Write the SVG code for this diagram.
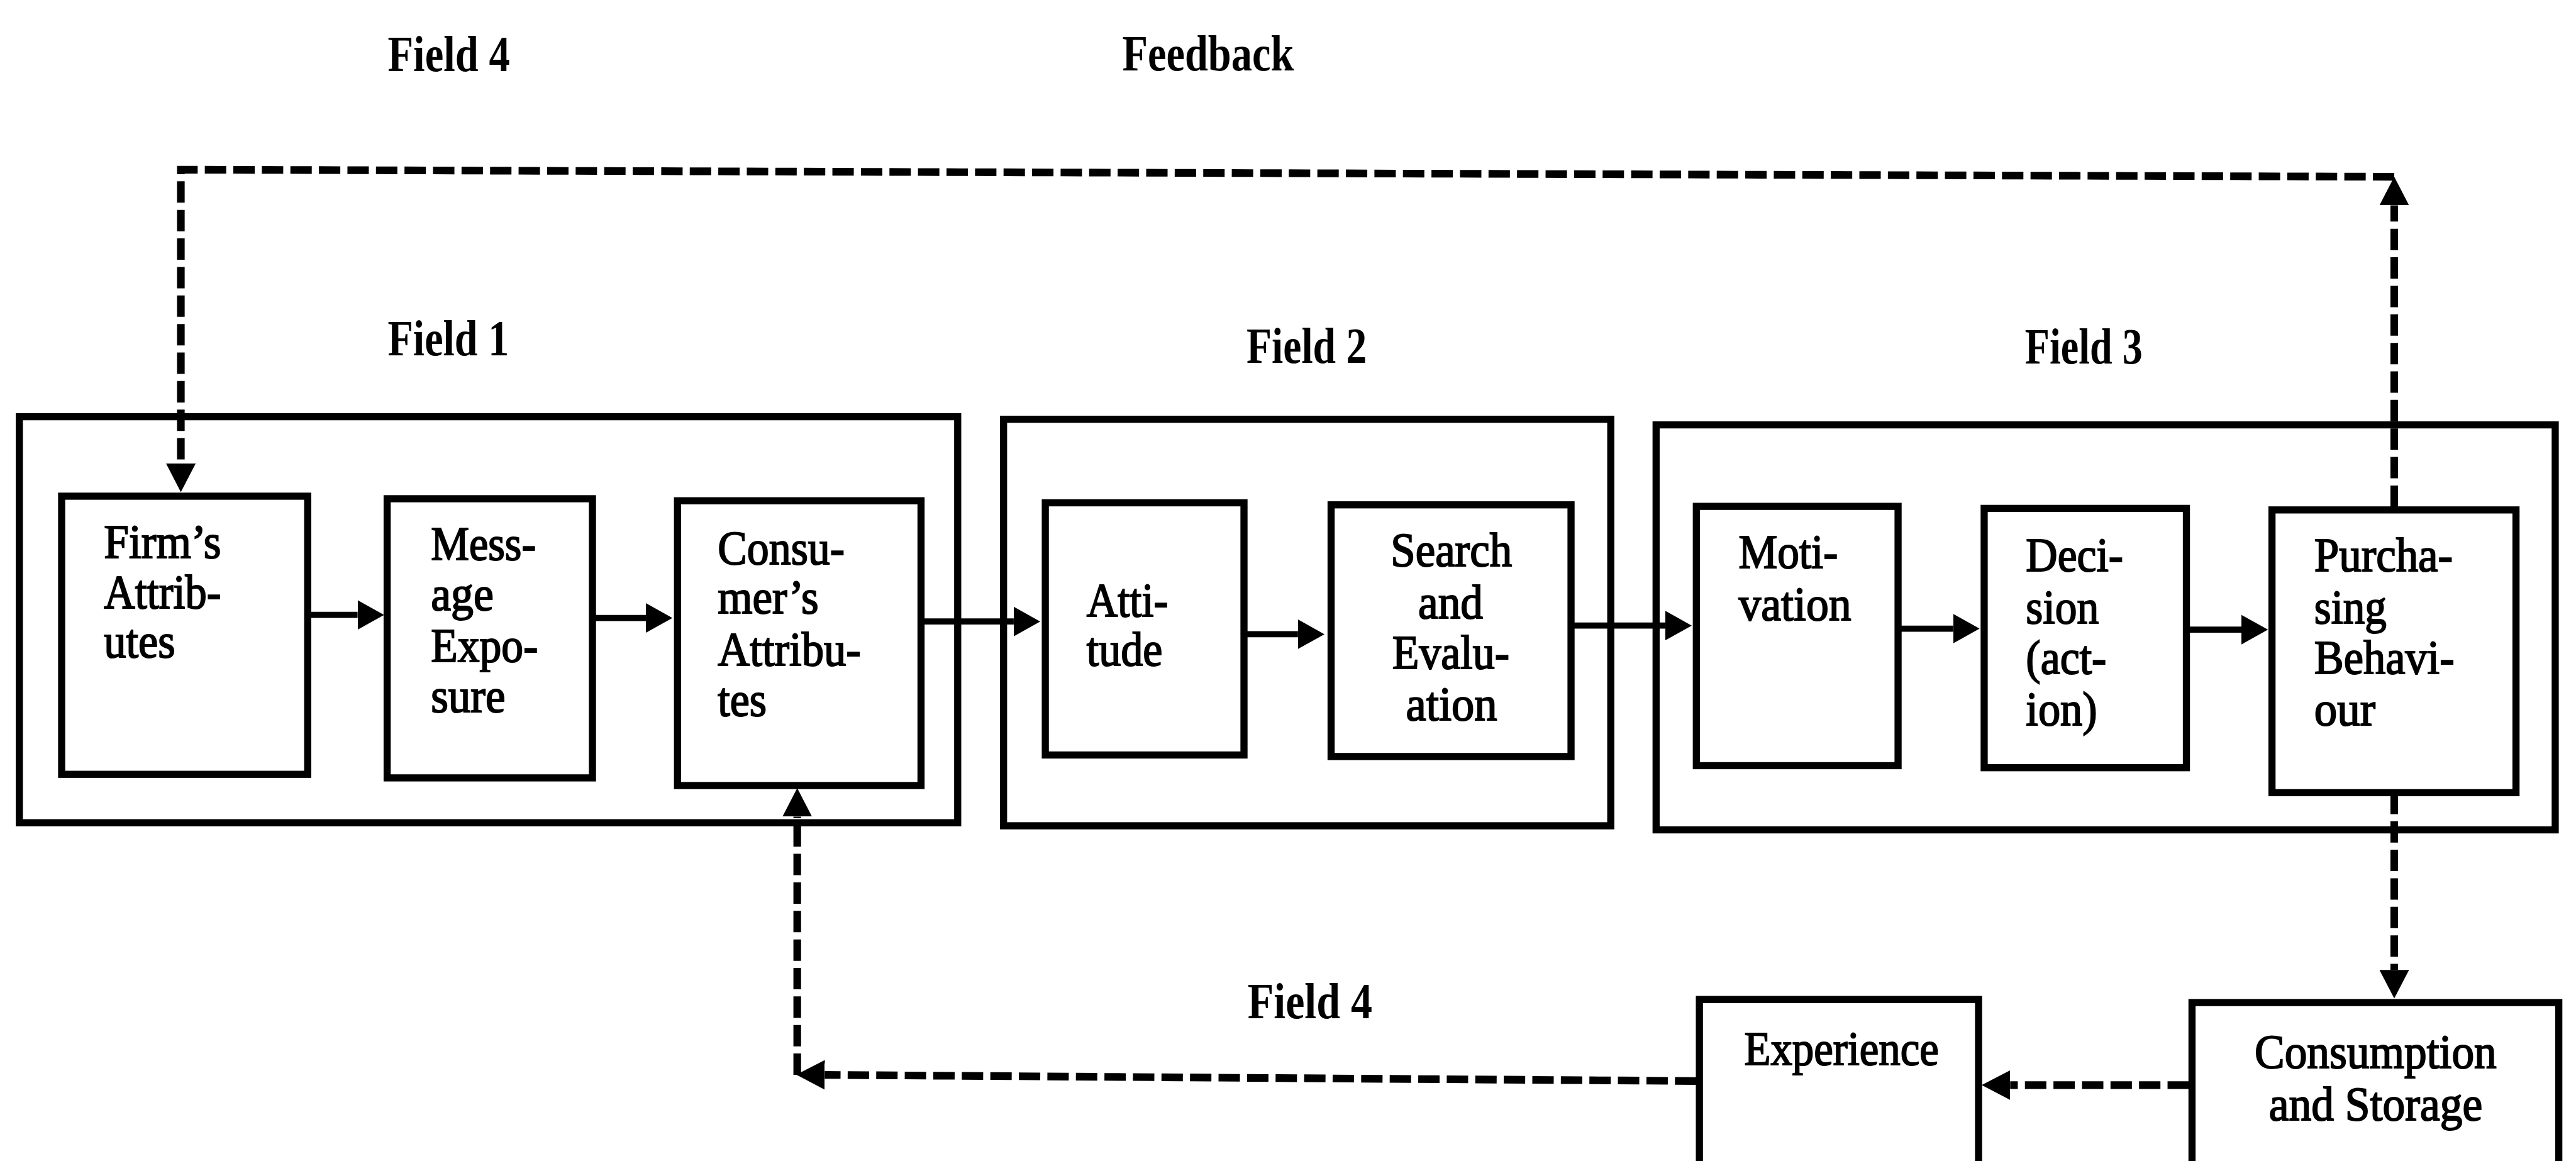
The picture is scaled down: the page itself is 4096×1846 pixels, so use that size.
<svg xmlns="http://www.w3.org/2000/svg" width="4096" height="1846" viewBox="0 0 4096 1846">
  <defs>
    <!-- solid flow arrowhead; line ends at its base -->
    <marker id="head" markerUnits="userSpaceOnUse" viewBox="0 0 52 58" markerWidth="52" markerHeight="58" refX="0" refY="29" orient="auto">
      <path d="M0,0 L52,29 L0,58 z" fill="#000"/>
    </marker>
    <!-- feedback arrowhead for dashed loops -->
    <marker id="headD" markerUnits="userSpaceOnUse" viewBox="0 0 56 58" markerWidth="56" markerHeight="58" refX="0" refY="29" orient="auto">
      <path d="M0,0 L56,29 L0,58 z" fill="#000"/>
    </marker>
  </defs>
  <style>
    .frame{fill:none;stroke:#000;stroke-width:14}
    .box{fill:#fff;stroke:#000;stroke-width:14}
    .lbl{font-family:"Liberation Serif","Times New Roman",serif;font-weight:bold;font-size:100px;fill:#000}
    .txt{font-family:"Liberation Serif","Times New Roman",serif;font-size:95px;fill:#000;stroke:#000;stroke-width:2.5}
    .flow{stroke:#000;stroke-width:12;fill:none;marker-end:url(#head)}
    .fb{stroke:#000;stroke-width:15;fill:none;stroke-dasharray:42 14;marker-end:url(#headD)}
  </style>
  <rect width="4096" height="1846" fill="#fff"/>

  <g transform="scale(0.81)">
    <!-- field headings -->
    <g id="labels">
      <text class="lbl" x="761" y="139" textLength="240" lengthAdjust="spacingAndGlyphs">Field 4</text>
      <text class="lbl" x="2203" y="138" textLength="337" lengthAdjust="spacingAndGlyphs">Feedback</text>
      <text class="lbl" x="761" y="697" textLength="238" lengthAdjust="spacingAndGlyphs">Field 1</text>
      <text class="lbl" x="2447" y="712" textLength="236" lengthAdjust="spacingAndGlyphs">Field 2</text>
      <text class="lbl" x="3975" y="714" textLength="231" lengthAdjust="spacingAndGlyphs">Field 3</text>
      <text class="lbl" x="2449" y="1999" textLength="245" lengthAdjust="spacingAndGlyphs">Field 4</text>
    </g>

    <!-- field frames -->
    <g id="field-1"><rect class="frame" x="38" y="818" width="1842" height="797"/></g>
    <g id="field-2"><rect class="frame" x="1970" y="823" width="1192" height="798"/></g>
    <g id="field-3"><rect class="frame" x="3251" y="834" width="1765" height="795"/></g>

    <!-- stage boxes -->
    <g id="firms-attributes">
      <rect class="box" x="121" y="974" width="483" height="546"/>
      <text class="txt" x="204" y="1095" textLength="230" lengthAdjust="spacingAndGlyphs">Firm’s</text>
      <text class="txt" x="204" y="1194" textLength="230" lengthAdjust="spacingAndGlyphs">Attrib-</text>
      <text class="txt" x="204" y="1290" textLength="140" lengthAdjust="spacingAndGlyphs">utes</text>
    </g>
    <g id="message-exposure">
      <rect class="box" x="760" y="979" width="403" height="548"/>
      <text class="txt" x="846" y="1099" textLength="206" lengthAdjust="spacingAndGlyphs">Mess-</text>
      <text class="txt" x="846" y="1197" textLength="123" lengthAdjust="spacingAndGlyphs">age</text>
      <text class="txt" x="846" y="1299" textLength="210" lengthAdjust="spacingAndGlyphs">Expo-</text>
      <text class="txt" x="846" y="1398" textLength="146" lengthAdjust="spacingAndGlyphs">sure</text>
    </g>
    <g id="consumers-attributes">
      <rect class="box" x="1330" y="983" width="478" height="559"/>
      <text class="txt" x="1409" y="1108" textLength="249" lengthAdjust="spacingAndGlyphs">Consu-</text>
      <text class="txt" x="1409" y="1204" textLength="198" lengthAdjust="spacingAndGlyphs">mer’s</text>
      <text class="txt" x="1409" y="1306" textLength="281" lengthAdjust="spacingAndGlyphs">Attribu-</text>
      <text class="txt" x="1409" y="1405" textLength="96" lengthAdjust="spacingAndGlyphs">tes</text>
    </g>
    <g id="attitude">
      <rect class="box" x="2052" y="987" width="390" height="495"/>
      <text class="txt" x="2133" y="1210" textLength="160" lengthAdjust="spacingAndGlyphs">Atti-</text>
      <text class="txt" x="2133" y="1306" textLength="149" lengthAdjust="spacingAndGlyphs">tude</text>
    </g>
    <g id="search-evaluation">
      <rect class="box" x="2613" y="991" width="471" height="494"/>
      <text class="txt" x="2730" y="1111" textLength="238" lengthAdjust="spacingAndGlyphs">Search</text>
      <text class="txt" x="2784" y="1213" textLength="127" lengthAdjust="spacingAndGlyphs">and</text>
      <text class="txt" x="2733" y="1312" textLength="230" lengthAdjust="spacingAndGlyphs">Evalu-</text>
      <text class="txt" x="2760" y="1414" textLength="179" lengthAdjust="spacingAndGlyphs">ation</text>
    </g>
    <g id="motivation">
      <rect class="box" x="3330" y="994" width="396" height="509"/>
      <text class="txt" x="3413" y="1115" textLength="195" lengthAdjust="spacingAndGlyphs">Moti-</text>
      <text class="txt" x="3413" y="1217" textLength="221" lengthAdjust="spacingAndGlyphs">vation</text>
    </g>
    <g id="decision">
      <rect class="box" x="3895" y="998" width="397" height="509"/>
      <text class="txt" x="3977" y="1121" textLength="191" lengthAdjust="spacingAndGlyphs">Deci-</text>
      <text class="txt" x="3977" y="1223" textLength="143" lengthAdjust="spacingAndGlyphs">sion</text>
      <text class="txt" x="3977" y="1322" textLength="158" lengthAdjust="spacingAndGlyphs">(act-</text>
      <text class="txt" x="3977" y="1424" textLength="140" lengthAdjust="spacingAndGlyphs">ion)</text>
    </g>
    <g id="purchasing-behaviour">
      <rect class="box" x="4460" y="1001" width="479" height="555"/>
      <text class="txt" x="4543" y="1121" textLength="272" lengthAdjust="spacingAndGlyphs">Purcha-</text>
      <text class="txt" x="4543" y="1223" textLength="142" lengthAdjust="spacingAndGlyphs">sing</text>
      <text class="txt" x="4543" y="1322" textLength="275" lengthAdjust="spacingAndGlyphs">Behavi-</text>
      <text class="txt" x="4543" y="1424" textLength="120" lengthAdjust="spacingAndGlyphs">our</text>
    </g>
    <g id="experience">
      <rect class="box" x="3336" y="1962" width="548" height="400"/>
      <text class="txt" x="3424" y="2090" textLength="382" lengthAdjust="spacingAndGlyphs">Experience</text>
    </g>
    <g id="consumption-storage">
      <rect class="box" x="4303" y="1968" width="720" height="400"/>
      <text class="txt" x="4426" y="2096" textLength="475" lengthAdjust="spacingAndGlyphs">Consumption</text>
      <text class="txt" x="4454" y="2199" textLength="419" lengthAdjust="spacingAndGlyphs">and Storage</text>
    </g>

    <!-- connectors -->
    <g id="connectors">
      <!-- main flow -->
      <line class="flow" x1="604" y1="1207" x2="702" y2="1207"/>
      <line class="flow" x1="1163" y1="1213" x2="1268" y2="1213"/>
      <line class="flow" x1="1808" y1="1220" x2="1990" y2="1220"/>
      <line class="flow" x1="2442" y1="1245" x2="2548" y2="1245"/>
      <line class="flow" x1="3084" y1="1228" x2="3269" y2="1228"/>
      <line class="flow" x1="3726" y1="1234" x2="3834" y2="1234"/>
      <line class="flow" x1="4292" y1="1236" x2="4400" y2="1236"/>

      <!-- upper feedback loop -->
      <line class="fb" x1="4700" y1="995" x2="4700" y2="403"/>
      <path class="fb" d="M4700,347 L355,333 L355,910"/>

      <!-- lower feedback loop -->
      <line class="fb" x1="4700" y1="1556" x2="4700" y2="1904"/>
      <line class="fb" x1="4297" y1="2130" x2="3946" y2="2130"/>
      <line class="fb" x1="3330" y1="2122" x2="1619" y2="2110"/>
      <line class="fb" x1="1565" y1="2110" x2="1565" y2="1603"/>
    </g>
  </g>
</svg>
